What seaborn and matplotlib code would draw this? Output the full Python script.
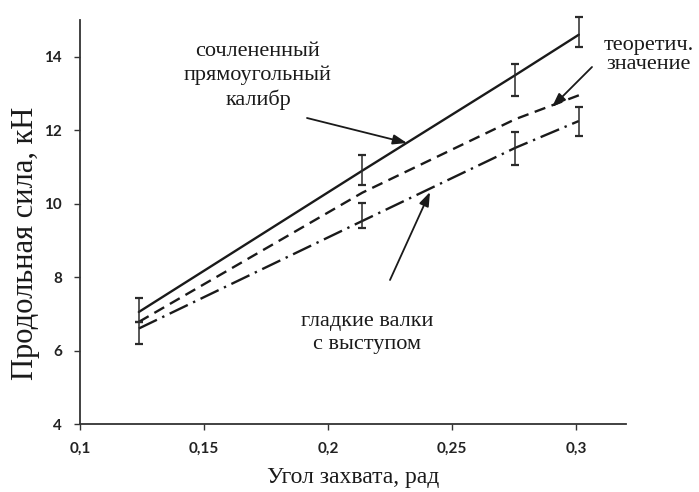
import matplotlib
matplotlib.use("Agg")
import matplotlib.pyplot as plt
import seaborn as sns
import pandas as pd

# Angle of bite, rad
angle = [0.1237, 0.2138, 0.2754, 0.3010]

# Fitted / computed curves of longitudinal force, kN
force_joint = [7.05, 10.90, 13.50, 14.60]     # сочлененный прямоугольный калибр
force_theory = [6.78, 10.30, 12.30, 12.95]    # теоретическое значение
force_smooth = [6.60, 9.53, 11.52, 12.25]     # гладкие валки с выступом

# Measured means and their spread
meas_joint = [7.10, 10.92, 13.37, 14.68]
err_joint = [0.33, 0.40, 0.43, 0.41]
meas_smooth = [6.49, 9.69, 11.50, 12.23]
err_smooth = [0.30, 0.34, 0.44, 0.40]

xticks = [0.1, 0.15, 0.2, 0.25, 0.3]
xticklabels = ["0,1", "0,15", "0,2", "0,25", "0,3"]
yticks = [4, 6, 8, 10, 12, 14]

W, H = 699, 492
sns.set_theme(style="ticks")
plt.rcParams["font.family"] = ["DejaVu Sans"]

fig = plt.figure(figsize=(W / 100, H / 100), dpi=100)
ax = fig.add_axes([80 / W, 1 - 424 / H, 546 / W, 404 / H])

df = pd.DataFrame({
    "angle": angle * 3,
    "force": force_joint + force_theory + force_smooth,
    "curve": ["joint"] * 4 + ["theory"] * 4 + ["smooth"] * 4,
})
sns.lineplot(
    data=df, x="angle", y="force", style="curve", hue="curve",
    palette={"joint": "#1a1a1a", "theory": "#1a1a1a", "smooth": "#1a1a1a"},
    dashes={"joint": "", "theory": (4.8, 2.8), "smooth": (8.5, 2.5, 1, 2.5)},
    linewidth=1.7, legend=False, ax=ax,
)

for means, errs in ((meas_joint, err_joint), (meas_smooth, err_smooth)):
    ax.errorbar(angle, means, yerr=errs, fmt="none", ecolor="#2a2a2a",
                elinewidth=1.1, capsize=2.8, capthick=1.6, clip_on=False)

ax.set_xlim(0.1, 0.32)
ax.set_ylim(4, 15)
ax.set_xticks(xticks)
ax.set_xticklabels(xticklabels)
ax.set_yticks(yticks)
ax.tick_params(axis="both", direction="out", length=4, width=1,
               color="#333333", labelsize=11, labelcolor="#222222")
ax.tick_params(axis="x", pad=9)
ax.tick_params(axis="y", pad=9)
for lab in ax.get_xticklabels() + ax.get_yticklabels():
    lab.set_fontfamily("Lato")
    lab.set_fontweight("bold")

sns.despine(ax=ax)
for side in ("left", "bottom"):
    ax.spines[side].set_color("#333333")
    ax.spines[side].set_linewidth(1.3)

serif = "Liberation Serif"
ax.set_xlabel("")
ax.set_ylabel("")
fig.text(353 / W, 1 - 478 / H, "Угол захвата, рад", ha="center", va="center",
         fontsize=17, family=serif, color="#1a1a1a")
fig.text(26 / W, 1 - 243 / H, "Продольная сила, кН", ha="center", va="center",
         rotation=90, fontsize=22, family=serif, color="#1a1a1a")


def fpos(x, y):
    """Figure-pixel position (from top-left) to figure fraction."""
    return (x / W, 1 - y / H)


arrow = dict(arrowstyle="-|>,head_length=0.7,head_width=0.25", color="#1a1a1a",
             lw=1.3, shrinkA=0, shrinkB=0)

fig.text(*fpos(258, 76), "сочлененный\nпрямоугольный\nкалибр", ha="center", va="center",
         fontsize=16, family=serif, linespacing=1.3, color="#1a1a1a")
ax.annotate("", xy=fpos(407, 143), xytext=fpos(307, 118), xycoords="figure fraction",
            textcoords="figure fraction", arrowprops=arrow)

fig.text(*fpos(649, 55), "теоретич.\nзначение", ha="center", va="center",
         fontsize=16, family=serif, linespacing=1.05, color="#1a1a1a")
ax.annotate("", xy=fpos(552, 107), xytext=fpos(592, 67), xycoords="figure fraction",
            textcoords="figure fraction", arrowprops=arrow)

fig.text(*fpos(367, 333), "гладкие валки\nс выступом", ha="center", va="center",
         fontsize=16, family=serif, linespacing=1.25, color="#1a1a1a")
ax.annotate("", xy=fpos(430, 192), xytext=fpos(390, 280), xycoords="figure fraction",
            textcoords="figure fraction", arrowprops=arrow)

fig.savefig("out.png", dpi=100, facecolor="white")
